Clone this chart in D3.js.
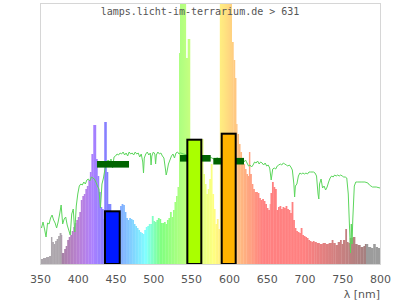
<!DOCTYPE html>
<html>
<head>
<meta charset="utf-8">
<script src="https://cdn.jsdelivr.net/npm/d3@7"></script>
<style>
  body { margin: 0; background: #fff; }
</style>
</head>
<body>
<div id="chart"></div>
<script>
// lamp spectrum (relative intensity, step samples starting at each wavelength)
const specNm = [350, 354, 358, 362, 364.5, 366, 368, 370, 372, 374, 376, 378, 379, 382, 384, 386, 388, 390,
  392, 394, 396, 398, 400, 402, 404, 406, 408, 410, 412, 414, 416, 418, 420.5, 424, 426, 428, 430, 432, 434,
  435, 438, 440, 444, 448, 452, 456, 458, 460, 462, 464, 466, 468, 470, 472, 474, 476, 478, 480, 482, 484,
  486, 488, 490, 492, 494, 496, 498, 500, 502, 504, 506, 508, 510, 512, 514, 516, 518, 520, 522, 524, 526,
  528, 530, 532, 534, 535.3, 543, 545.5, 548.5, 552, 556, 560, 563, 566, 568, 570, 572, 574, 576, 578, 580,
  582, 584, 586, 588, 603.7, 606, 608, 609.6, 611, 613, 615, 617, 619, 621, 623, 625, 626.5, 628, 630, 632,
  634, 638, 640, 642, 644, 646, 648, 650, 652, 654, 655, 657, 659, 661, 663, 665, 667, 669, 671, 673, 675,
  677, 679, 681, 683, 685, 687, 689, 691, 693, 695, 697, 699, 701, 703, 705, 707, 709, 711, 713, 716, 720,
  724, 728, 732, 736, 738, 741, 744, 747, 749, 751, 754, 756, 758, 760, 764, 767, 770, 774, 778, 780, 784,
  788, 791, 794, 797];
const specVal = [5, 6, 7, 8, 27, 22, 20, 23, 25, 28, 31, 29, 11, 15, 18, 24, 27, 29,
  33, 37, 41, 44, 47, 52, 64, 68, 70, 75, 78, 84, 92, 110, 139, 105, 88, 72, 57, 55, 45,
  142, 92, 60, 48, 50, 52, 58, 60, 59, 52, 46, 44, 46, 45, 44, 40, 38, 36, 34, 32, 31,
  30, 34, 37, 38, 40, 40, 48, 43, 42, 44, 46, 45, 41, 41, 42, 40, 44, 46, 52, 47, 54,
  62, 68, 77, 211, 300, 206, 225, 110, 115, 105, 100, 125, 90, 80, 70, 75, 85, 100, 70, 55,
  40, 45, 35, 300, 222, 204, 186, 140, 130, 120, 112, 105, 100, 95, 90, 88, 112, 90, 80, 75,
  72, 71, 66, 64, 65, 63, 60, 56, 54, 60, 71, 82, 77, 75, 54, 57, 58, 55, 57, 56, 58,
  55, 54, 51, 62, 44, 36, 33, 32, 31, 36, 29, 28, 27, 26, 24, 23, 22, 23, 22, 21, 20,
  21, 20, 21, 24, 21, 19, 22, 24, 20, 24, 35, 22, 21, 26, 27, 20, 19, 17, 18, 20, 17,
  16, 20, 17, 16];

// reference daylight curve
const sunNm = [350, 352, 354, 356, 358, 360, 362, 364, 366, 368, 370, 372, 374, 376, 378, 380, 382, 384, 386,
  388, 390, 392, 394, 396, 398, 400, 402, 404, 406, 408, 410, 412, 414, 416, 418, 420, 422, 424, 426, 428,
  430, 432, 434, 436, 438, 440, 442, 444, 446, 448, 450, 452, 454, 456, 458, 460, 462, 464, 466, 468, 470,
  472, 474, 476, 478, 480, 482, 484, 486, 487, 488, 490, 492, 494, 496, 497, 498, 500, 502, 503, 504, 506,
  508, 510, 512, 514, 516, 517, 518, 520, 522, 524, 526, 528, 530, 532, 534, 536, 540, 545, 550, 555, 560,
  565, 570, 575, 580, 585, 590, 595, 600, 605, 610, 612, 614, 616, 618, 620, 622, 624, 626, 628, 630, 632,
  634, 636, 638, 640, 642, 644, 646, 648, 650, 652, 654, 656, 658, 660, 662, 664, 666, 668, 670, 672, 674,
  676, 678, 680, 682, 684, 686, 687, 688, 690, 692, 694, 696, 698, 700, 702, 704, 706, 708, 710, 712, 714,
  716, 718, 719, 720, 722, 724, 726, 728, 730, 732, 734, 736, 738, 740, 742, 744, 746, 748, 750, 752, 754,
  756, 758, 760, 761, 762, 763, 764, 766, 768, 770, 775, 780, 784, 786, 788, 790, 795, 800];
const sunVal = [39, 36, 42, 35, 27, 41, 40, 46, 49, 44, 41, 36, 42, 50, 59, 40, 45, 47, 39,
  34, 29, 50, 55, 32, 58, 70, 78, 80, 79, 82, 80, 84, 85, 83, 87, 86, 85, 82, 78, 75,
  56, 80, 86, 95, 100, 104, 102, 105, 96, 107, 108, 110, 109, 111, 110, 112, 109, 111, 108, 112, 110,
  111, 109, 112, 110, 111, 107, 110, 102, 91, 106, 110, 112, 109, 111, 99, 108, 112, 110, 100, 109, 112,
  110, 111, 108, 106, 95, 89, 92, 100, 104, 108, 110, 106, 111, 112, 110, 111, 110, 109, 108, 110, 109,
  108, 106, 107, 105, 106, 104, 105, 104, 103, 103, 100, 104, 102, 103, 102, 104, 101, 98, 99, 97, 99,
  102, 101, 103, 100, 102, 101, 99, 101, 98, 99, 96, 84, 95, 96, 95, 98, 99, 100, 99, 101, 100,
  99, 98, 99, 97, 94, 80, 67, 78, 80, 88, 91, 90, 91, 90, 91, 90, 92, 92, 92, 92, 91,
  88, 70, 65, 80, 85, 76, 78, 74, 77, 82, 86, 88, 87, 89, 88, 89, 88, 89, 88, 87, 87,
  86, 70, 30, 11, 40, 20, 45, 78, 82, 82, 82, 82, 81, 79, 78, 77, 77, 76];

// colour bands
const bandFrom = [436, 545, 590.5];
const bandTo = [455.5, 563.5, 609];
const bandVal = [52.7, 124.3, 130.3];
const bandColor = ["#0019ff", "#aaff00", "#ffb300"];

// band reference markers
const markFrom = [425.4, 535.3, 579.4];
const markTo = [467.8, 575.9, 620];
const markVal = [99.7, 105.7, 102.8];

const xTicks = [350, 400, 450, 500, 550, 600, 650, 700, 750, 800];

const width = 400, height = 300;

const x = d3.scaleLinear().domain([350, 800]).range([40, 380]);
const y = d3.scaleLinear().domain([0, 260]).range([264, 4]);

// wavelength to pastel colour
function wlColor(w) {
  if (w < 379) return "#aca6ac";
  if (w > 781) return "#9c9c9c";
  let r = 0, g = 0, b = 0;
  if (w < 440) { r = (440 - w) / 60; b = 1; }
  else if (w < 490) { g = (w - 440) / 50; b = 1; }
  else if (w < 510) { g = 1; b = (510 - w) / 20; }
  else if (w < 580) { r = (w - 510) / 70; g = 1; }
  else if (w < 645) { r = 1; g = (645 - w) / 65; }
  else { r = 1; }
  let f = 1;
  if (w < 420) f = 0.3 + 0.7 * (w - 380) / 40;
  else if (w > 700) f = 0.3 + 0.7 * (780 - w) / 80;
  const c = v => Math.round(255 * (0.5 + 0.5 * v * f));
  return d3.rgb(c(r), c(g), c(b)).formatHex();
}

const svg = d3.select("#chart").append("svg")
  .attr("width", width)
  .attr("height", height);

const defs = svg.append("defs");
defs.append("clipPath").attr("id", "plot")
  .append("rect")
  .attr("x", x(350)).attr("y", y(260))
  .attr("width", x(800) - x(350)).attr("height", y(0) - y(260));

const grad = defs.append("linearGradient").attr("id", "wl")
  .attr("gradientUnits", "userSpaceOnUse")
  .attr("x1", x(350)).attr("x2", x(800)).attr("y1", 0).attr("y2", 0);
grad.selectAll("stop")
  .data(d3.range(350, 801, 1))
  .join("stop")
  .attr("offset", d => (d - 350) / 450)
  .attr("stop-color", d => wlColor(d));

const plot = svg.append("g").attr("clip-path", "url(#plot)");

// spectrum
const spec = specNm.map((nm, i) => ({ from: nm, to: specNm[i + 1] || 800, v: specVal[i] }));
plot.append("g")
  .selectAll("rect")
  .data(spec)
  .join("rect")
  .attr("x", d => x(d.from))
  .attr("width", d => x(d.to) - x(d.from) + 0.3)
  .attr("y", d => y(d.v))
  .attr("height", d => y(0) - y(d.v))
  .attr("fill", "url(#wl)");

// daylight line
const line = d3.line().x(d => x(d[0])).y(d => y(d[1]));
plot.append("path")
  .datum(sunNm.map((nm, i) => [nm, sunVal[i]]))
  .attr("d", line)
  .attr("fill", "none")
  .attr("stroke", "#5cd65c")
  .attr("stroke-width", 1);

// markers
const markH = 6.6;
plot.append("g")
  .selectAll("rect")
  .data(markVal)
  .join("rect")
  .attr("x", (d, i) => x(markFrom[i]))
  .attr("width", (d, i) => x(markTo[i]) - x(markFrom[i]))
  .attr("y", d => y(d) - markH / 2)
  .attr("height", markH)
  .attr("fill", "#006400");

// bands
svg.append("g")
  .selectAll("rect")
  .data(bandVal)
  .join("rect")
  .attr("x", (d, i) => x(bandFrom[i]))
  .attr("width", (d, i) => x(bandTo[i]) - x(bandFrom[i]))
  .attr("y", d => y(d))
  .attr("height", d => y(0) - y(d))
  .attr("fill", (d, i) => bandColor[i])
  .attr("stroke", "#000")
  .attr("stroke-width", 2);

// frame
svg.append("rect")
  .attr("x", x(350) + 0.5).attr("y", y(260) - 0.5)
  .attr("width", x(800) - x(350)).attr("height", y(0) - y(260) + 1)
  .attr("fill", "none")
  .attr("stroke", "#d6d6d6");

// axis
svg.append("g")
  .attr("transform", `translate(0,${y(0)})`)
  .call(d3.axisBottom(x).tickValues(xTicks).tickSize(0).tickPadding(11))
  .call(g => g.select(".domain").remove())
  .attr("font-family", "DejaVu Sans")
  .attr("font-size", 11)
  .call(g => g.selectAll("text").attr("fill", "#555"));

svg.append("text")
  .attr("x", 380).attr("y", 297.5)
  .attr("text-anchor", "end")
  .attr("font-family", "DejaVu Sans")
  .attr("font-size", 11)
  .attr("fill", "#555")
  .text("λ [nm]");

svg.append("text")
  .attr("x", 200).attr("y", 14.5)
  .attr("text-anchor", "middle")
  .attr("font-family", "DejaVu Sans Mono")
  .attr("font-size", 10)
  .attr("fill", "#555")
  .text("lamps.licht-im-terrarium.de > 631");
</script>
</body>
</html>
